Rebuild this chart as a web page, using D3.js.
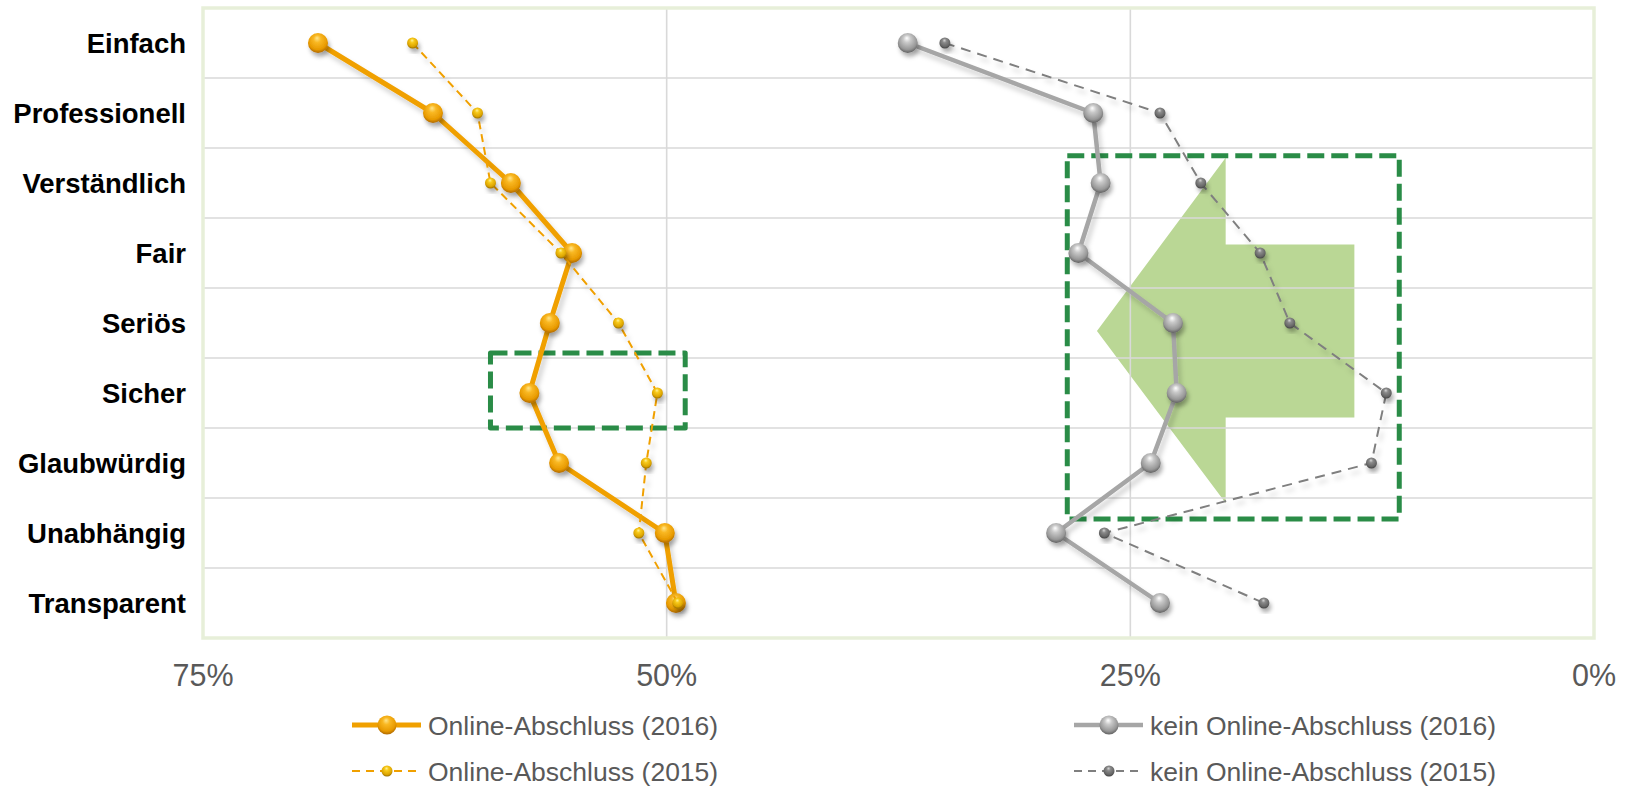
<!DOCTYPE html>
<html lang="de">
<head>
<meta charset="utf-8">
<title>Image-Profil: Online-Abschluss vs. kein Online-Abschluss</title>
<script src="https://cdn.jsdelivr.net/npm/d3@7"></script>
<style>
  html, body { margin: 0; padding: 0; background: #ffffff; }
  svg { display: block; font-family: "Liberation Sans", Arial, sans-serif; }
</style>
</head>
<body>
<svg id="chart" width="1626" height="787"></svg>
<script>
// Image attributes (one row per attribute)
const categories = ["Einfach", "Professionell", "Verständlich", "Fair", "Seriös",
                    "Sicher", "Glaubwürdig", "Unabhängig", "Transparent"];

// Share of respondents in %
const online2016  = [68.8, 62.6, 58.4, 55.1, 56.3, 57.4, 55.8, 50.1, 49.5];
const online2015  = [63.7, 60.2, 59.5, 55.7, 52.6, 50.5, 51.1, 51.5, 49.4];
const offline2016 = [37.0, 27.0, 26.6, 27.8, 22.7, 22.5, 23.9, 29.0, 23.4];
const offline2015 = [35.0, 23.4, 21.2, 18.0, 16.4, 11.2, 12.0, 26.4, 17.8];

const xTicks = [75, 50, 25, 0];
const xTickLabels = ["75%", "50%", "25%", "0%"];

const seriesNames = ["Online-Abschluss (2016)", "Online-Abschluss (2015)",
                     "kein Online-Abschluss (2016)", "kein Online-Abschluss (2015)"];

// Callouts, in value units (x: %, y: rows from the top)
const calloutBoxes = [
  { x0: 59.5, x1: 49.0, y0: 4.93, y1: 6.0 },
  { x0: 28.4, x1: 10.5, y0: 2.11, y1: 7.3 }
];
const arrowShape = { tip: 26.8, headBase: 19.86, tail: 12.92,
                     mid: 4.614, headTop: 2.14, headBottom: 7.07,
                     shaftTop: 3.38, shaftBottom: 5.85 };

const svg = d3.select("#chart");
const plot = { left: 203, right: 1594, top: 8, bottom: 638 };

const x = d3.scaleLinear().domain([75, 0]).range([plot.left, plot.right]);
const y = d3.scaleBand().domain(categories).range([plot.top, plot.bottom]);
const rowPos = d3.scaleLinear().domain([0, categories.length]).range([plot.top, plot.bottom]);
const cy = c => y(c) + y.bandwidth() / 2;

// ---------- defs: sphere gradients and shadows ----------
const defs = svg.append("defs");
function sphere(id, stops) {
  const g = defs.append("radialGradient").attr("id", id)
    .attr("cx", "50%").attr("cy", "40%").attr("r", "62%")
    .attr("fx", "45%").attr("fy", "25%");
  stops.forEach(([o, c]) => g.append("stop").attr("offset", o).attr("stop-color", c));
}
sphere("ball-orange", [[0, "#ffe58a"], [0.3, "#f9b823"], [0.75, "#e89a00"], [1, "#a86300"]]);
sphere("ball-gold",   [[0, "#fff39a"], [0.3, "#f7c91a"], [0.75, "#dca400"], [1, "#8c6500"]]);
sphere("ball-grey",   [[0, "#ffffff"], [0.3, "#c9c9c9"], [0.75, "#979797"], [1, "#5a5a5a"]]);
sphere("ball-dark",   [[0, "#d6d6d6"], [0.3, "#8a8a8a"], [0.75, "#666666"], [1, "#3c3c3c"]]);

const shadow = defs.append("filter").attr("id", "shadow")
  .attr("x", "-50%").attr("y", "-50%").attr("width", "200%").attr("height", "200%");
shadow.append("feDropShadow").attr("dx", 2).attr("dy", 4)
  .attr("stdDeviation", 2).attr("flood-color", "#000").attr("flood-opacity", 0.3);

const lineShadow = defs.append("filter").attr("id", "line-shadow")
  .attr("x", "-10%").attr("y", "-10%").attr("width", "120%").attr("height", "120%");
lineShadow.append("feDropShadow").attr("dx", 3).attr("dy", 5)
  .attr("stdDeviation", 2.5).attr("flood-color", "#000").attr("flood-opacity", 0.18);

// ---------- big arrow (under the grid) ----------
const A = arrowShape;
svg.append("path")
  .attr("d", d3.line()([
    [x(A.tip), rowPos(A.mid)],
    [x(A.headBase), rowPos(A.headTop)],
    [x(A.headBase), rowPos(A.shaftTop)],
    [x(A.tail), rowPos(A.shaftTop)],
    [x(A.tail), rowPos(A.shaftBottom)],
    [x(A.headBase), rowPos(A.shaftBottom)],
    [x(A.headBase), rowPos(A.headBottom)]
  ]) + "Z")
  .attr("fill", "#bad795");

// ---------- gridlines ----------
const grid = svg.append("g").attr("stroke", "#d9d9d9").attr("stroke-width", 1.6);
grid.selectAll("line.h").data(categories.slice(1)).join("line")
  .attr("x1", plot.left).attr("x2", plot.right)
  .attr("y1", d => y(d)).attr("y2", d => y(d));
grid.selectAll("line.v").data(xTicks.filter(t => t !== 75 && t !== 0)).join("line")
  .attr("x1", d => x(d)).attr("x2", d => x(d))
  .attr("y1", plot.top).attr("y2", plot.bottom);

// plot area frame
svg.append("rect")
  .attr("x", plot.left).attr("y", plot.top)
  .attr("width", plot.right - plot.left).attr("height", plot.bottom - plot.top)
  .attr("fill", "none").attr("stroke", "#e7efd9").attr("stroke-width", 3.5);

// ---------- dashed callout boxes ----------
svg.append("g").selectAll("rect").data(calloutBoxes).join("rect")
  .attr("x", d => x(d.x0)).attr("y", d => rowPos(d.y0))
  .attr("width", d => x(d.x1) - x(d.x0)).attr("height", d => rowPos(d.y1) - rowPos(d.y0))
  .attr("fill", "none").attr("stroke", "#2a8c47").attr("stroke-width", 5)
  .attr("stroke-dasharray", "17,7").attr("stroke-linejoin", "round");

// ---------- series ----------
const series = [
  { name: seriesNames[0], values: online2016,  color: "#f0a000", width: 5,   dash: null,   r: 10,  fill: "url(#ball-orange)" },
  { name: seriesNames[1], values: online2015,  color: "#f0a000", width: 2,   dash: "8,5",  r: 5.5, fill: "url(#ball-gold)" },
  { name: seriesNames[2], values: offline2016, color: "#a6a6a6", width: 4.5, dash: null,   r: 10,  fill: "url(#ball-grey)" },
  { name: seriesNames[3], values: offline2015, color: "#7f7f7f", width: 2,   dash: "10,7", r: 5.5, fill: "url(#ball-dark)" }
];

const line = d3.line().x(d => x(d.v)).y(d => cy(d.c));

series.forEach(s => {
  const pts = s.values.map((v, i) => ({ v, c: categories[i] }));
  const g = svg.append("g");
  g.append("path").datum(pts)
    .attr("d", line)
    .attr("fill", "none")
    .attr("stroke", s.color).attr("stroke-width", s.width)
    .attr("stroke-dasharray", s.dash)
    .attr("stroke-linejoin", "round")
    .attr("filter", "url(#line-shadow)");
  g.selectAll("circle").data(pts).join("circle")
    .attr("cx", d => x(d.v)).attr("cy", d => cy(d.c)).attr("r", s.r)
    .attr("fill", s.fill).attr("filter", "url(#shadow)");
});

// ---------- category labels ----------
svg.append("g").selectAll("text").data(categories).join("text")
  .attr("x", 186).attr("y", d => cy(d) + 10)
  .attr("text-anchor", "end")
  .attr("font-size", 27.5).attr("font-weight", "bold").attr("fill", "#000")
  .text(d => d);

// ---------- x axis tick labels ----------
svg.append("g").selectAll("text").data(xTicks).join("text")
  .attr("x", d => x(d)).attr("y", 686)
  .attr("text-anchor", "middle")
  .attr("font-size", 30.5).attr("fill", "#595959")
  .text((d, i) => xTickLabels[i]);

// ---------- legend ----------
const legendPos = [
  { lx: 352, ly: 725 }, { lx: 352, ly: 771 },
  { lx: 1074, ly: 725 }, { lx: 1074, ly: 771 }
];
series.forEach((s, i) => {
  const p = legendPos[i];
  const g = svg.append("g").attr("transform", `translate(${p.lx},${p.ly})`);
  g.append("line").attr("x1", 0).attr("x2", 69).attr("y1", 0).attr("y2", 0)
    .attr("stroke", s.color).attr("stroke-width", s.width)
    .attr("stroke-dasharray", s.dash ? "8,6" : null);
  g.append("circle").attr("cx", 35).attr("cy", 0).attr("r", s.r === 10 ? 9.5 : 5.5)
    .attr("fill", s.fill);
  g.append("text").attr("x", 76).attr("y", 9.5)
    .attr("font-size", 26.5).attr("fill", "#595959")
    .text(s.name);
});
</script>
</body>
</html>
